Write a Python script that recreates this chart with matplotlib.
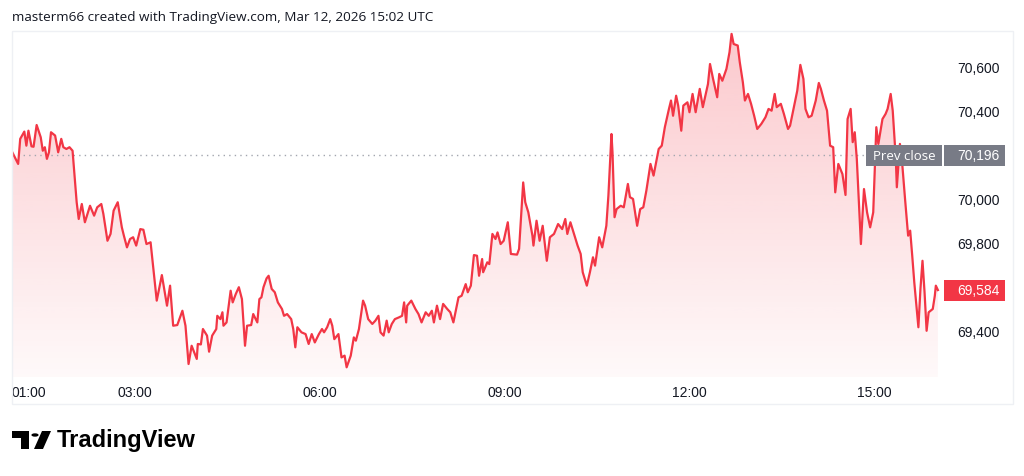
import numpy as np
import matplotlib
matplotlib.use("Agg")
import matplotlib.pyplot as plt
from matplotlib.patches import Rectangle, Circle, Polygon
from matplotlib.colors import to_rgb

# intraday prices, time in minutes after midnight (UTC+1)
minutes = [60, 66, 68, 72, 74, 76, 79, 81, 84, 88,
           90, 92, 94, 96, 98, 102, 105, 108, 110, 113,
           116, 119, 123, 125, 128, 131, 136, 140, 143, 147,
           149, 153, 156, 159, 163, 167, 169, 172, 175, 178,
           181, 185, 188, 191, 195, 201, 206, 211, 214, 217,
           221, 226, 229, 232, 235, 240, 241, 244, 246, 250,
           252, 255, 259, 260, 263, 265, 266, 269, 273, 275,
           278, 281, 284, 287, 289, 293, 295, 299, 301, 303,
           305, 308, 310, 313, 316, 319, 323, 325, 328, 332,
           334, 336, 338, 342, 346, 349, 352, 355, 359, 362,
           364, 367, 370, 372, 374, 378, 381, 384, 386, 390,
           393, 395, 398, 402, 404, 407, 411, 414, 417, 419,
           422, 425, 427, 430, 433, 437, 440, 442, 444, 445,
           449, 453, 456, 459, 463, 466, 469, 471, 474, 477,
           480, 484, 487, 490, 492, 495, 498, 502, 504, 507,
           510, 513, 515, 518, 519, 523, 525, 528, 531, 533,
           536, 539, 543, 546, 552, 554, 558, 560, 563, 567,
           568, 571, 574, 577, 581, 584, 588, 592, 596, 599,
           601, 604, 607, 611, 614, 616, 620, 623, 626, 628,
           632, 635, 639, 641, 644, 645, 647, 649, 653, 656,
           660, 662, 665, 669, 672, 675, 678, 682, 685, 690,
           693, 696, 700, 702, 704, 707, 709, 712, 714, 718,
           720, 723, 726, 730, 733, 738, 740, 743, 747, 749,
           752, 756, 759, 761, 763, 767, 769, 772, 774, 777,
           780, 783, 786, 790, 794, 797, 800, 803, 805, 809,
           812, 816, 818, 822, 825, 828, 831, 833, 836, 839,
           843, 846, 848, 851, 854, 857, 860, 862, 865, 869,
           872, 874, 877, 879, 881, 883, 887, 890, 893, 896,
           899, 902, 904, 908, 911, 913, 916, 918, 921, 922,
           925, 927, 930, 933, 935, 937, 939, 943, 945, 947,
           949, 951, 953, 957, 959, 960, 962]
prices = [70213, 70157, 70271, 70304, 70240, 70308, 70237, 70235, 70334, 70278,
          70217, 70233, 70180, 70210, 70301, 70286, 70210, 70271, 70233, 70225,
          70233, 70217, 69983, 69907, 69975, 69892, 69967, 69922, 69960, 69975,
          69930, 69808, 69839, 69945, 69983, 69869, 69831, 69778, 69816, 69824,
          69786, 69861, 69858, 69793, 69801, 69536, 69652, 69513, 69604, 69422,
          69425, 69490, 69422, 69248, 69331, 69271, 69339, 69337, 69407, 69377,
          69304, 69377, 69407, 69467, 69452, 69483, 69422, 69437, 69581, 69528,
          69566, 69597, 69543, 69331, 69422, 69425, 69475, 69437, 69543, 69551,
          69597, 69637, 69649, 69589, 69574, 69528, 69498, 69467, 69475, 69452,
          69407, 69324, 69415, 69392, 69384, 69339, 69384, 69346, 69384, 69407,
          69392, 69415, 69452, 69422, 69361, 69384, 69278, 69286, 69233, 69286,
          69369, 69354, 69407, 69536, 69513, 69452, 69430, 69445, 69467, 69392,
          69377, 69445, 69392, 69430, 69452, 69460, 69467, 69528, 69437, 69513,
          69536, 69498, 69475, 69437, 69483, 69467, 69490, 69437, 69513, 69452,
          69521, 69498, 69483, 69437, 69483, 69551, 69558, 69611, 69574, 69604,
          69743, 69740, 69649, 69725, 69665, 69710, 69702, 69839, 69816, 69846,
          69793, 69808, 69892, 69748, 69745, 69771, 70073, 69983, 69937, 69831,
          69786, 69899, 69808, 69876, 69717, 69824, 69839, 69884, 69861, 69907,
          69839, 69892, 69846, 69786, 69748, 69665, 69604, 69665, 69733, 69695,
          69824, 69778, 69876, 70013, 70293, 70210, 69915, 69952, 69967, 69960,
          70066, 70006, 69998, 69876, 69952, 69960, 70036, 70157, 70104, 70225,
          70240, 70324, 70407, 70445, 70376, 70467, 70422, 70308, 70422, 70437,
          70392, 70475, 70392, 70498, 70415, 70520, 70611, 70543, 70460, 70566,
          70535, 70589, 70665, 70748, 70702, 70695, 70619, 70528, 70445, 70475,
          70430, 70376, 70316, 70339, 70369, 70407, 70399, 70475, 70415, 70430,
          70384, 70316, 70331, 70422, 70490, 70607, 70543, 70407, 70369, 70376,
          70445, 70525, 70498, 70445, 70399, 70240, 70233, 70028, 70157, 70111,
          70016, 70361, 70407, 70256, 70301, 70180, 69793, 70043, 69937, 69869,
          69937, 70324, 70248, 70361, 70384, 70407, 70475, 70399, 70180, 70051,
          70248, 70172, 69998, 69831, 69854, 69740, 69619, 69415, 69589, 69717,
          69574, 69399, 69483, 69498, 69558, 69604, 69584]

prev_close = 70196
last_price = 69584
price_ticks = [69400, 69800, 70000, 70400, 70600]
time_ticks = [60, 180, 360, 540, 720, 900]
time_labels = ["01:00", "03:00", "06:00", "09:00", "12:00", "15:00"]
title = "masterm66 created with TradingView.com, Mar 12, 2026 15:02 UTC"

RED = "#F23645"
GREY = "#787B86"
INK = "#131722"
W, H = 1024, 477


def fx(px):
    return px / W


def fy(py):
    return 1 - py / H


fig = plt.figure(figsize=(W / 100, H / 100), dpi=100)
fig.patch.set_facecolor("white")

ax = fig.add_axes([fx(12), fy(378), (942 - 12) / W, (378 - 32) / H])
x0, x1 = 60, 966
y0, y1 = 69189, 70761

# gradient area under the line
poly = ax.fill_between(minutes, prices, y0, color="none", lw=0)
grad = np.zeros((256, 1, 4))
grad[..., :3] = to_rgb(RED)
grad[:, 0, 3] = np.linspace(0.27, 0.03, 256)
im = ax.imshow(grad, extent=[x0, x1, y0, max(prices)], aspect="auto",
               origin="upper", zorder=1, interpolation="bilinear")
im.set_clip_path(poly.get_paths()[0], transform=ax.transData)

ax.plot(minutes, prices, color=RED, lw=1.6, solid_joinstyle="round", zorder=3)
ax.axhline(prev_close, color="#A3A6AF", lw=1, ls=(0, (1, 3)), zorder=2)

ax.set_xlim(x0, x1)
ax.set_ylim(y0, y1)
for s in ax.spines.values():
    s.set_visible(False)

ax.set_xticks(time_ticks, time_labels)
ax.set_yticks(price_ticks, [f"{v:,}" for v in price_ticks])
ax.yaxis.tick_right()
ax.tick_params(axis="both", length=0, colors=INK, labelsize=10)
ax.tick_params(axis="x", pad=6)
ax.tick_params(axis="y", pad=11)
for lab in ax.get_xticklabels() + ax.get_yticklabels():
    lab.set_fontfamily("Liberation Sans")
ax.get_xticklabels()[0].set_ha("left")


def ypix(v):
    return H - ax.transData.transform((x0, v))[1]


# price scale labels
yc = ypix(prev_close)
fig.add_artist(Rectangle((fx(866), fy(yc + 10.5)), (942 - 866) / W, 21 / H,
                         transform=fig.transFigure, color=GREY, lw=0))
fig.add_artist(Rectangle((fx(944), fy(yc + 10.5)), (1005 - 944) / W, 21 / H,
                         transform=fig.transFigure, color=GREY, lw=0))
fig.text(fx(904), fy(yc), "Prev close", color="white", ha="center", va="center",
         fontsize=9.5, family="Open Sans")
fig.text(fx(957), fy(yc), f"{prev_close:,}", color="white", ha="left", va="center",
         fontsize=10, family="Liberation Sans")

yl = ypix(last_price)
fig.add_artist(Rectangle((fx(944), fy(yl + 10.5)), (1005 - 944) / W, 21 / H,
                         transform=fig.transFigure, color=RED, lw=0))
fig.text(fx(957), fy(yl), f"{last_price:,}", color="white", ha="left", va="center",
         fontsize=10, family="Liberation Sans")

# chart frame
fig.add_artist(Rectangle((fx(12), fy(405)), (1013 - 12) / W, (405 - 32) / H,
                         transform=fig.transFigure, fill=False, ec="#EEF0F4", lw=1))

fig.text(fx(12), fy(17), title, color=INK, ha="left", va="center",
         fontsize=9.7, family="Open Sans")

# TradingView logo
ink = "#000000"
fig.add_artist(Rectangle((fx(12), fy(439)), 17 / W, 7 / H, transform=fig.transFigure, color=ink, lw=0))
fig.add_artist(Rectangle((fx(21), fy(450)), 8 / W, 18 / H, transform=fig.transFigure, color=ink, lw=0))
fig.add_artist(Circle((fx(35), fy(436)), 3.6 / W, transform=fig.transFigure, color=ink, lw=0))
fig.add_artist(Polygon([(fx(42), fy(432)), (fx(51), fy(432)), (fx(43), fy(450)), (fx(34), fy(450))],
                       closed=True, transform=fig.transFigure, color=ink, lw=0))
fig.text(fx(57), fy(441), "TradingView", color=ink, ha="left", va="center",
         fontsize=17, fontweight="bold", family="Liberation Sans")

fig.savefig("out.png", dpi=100, facecolor="white")
